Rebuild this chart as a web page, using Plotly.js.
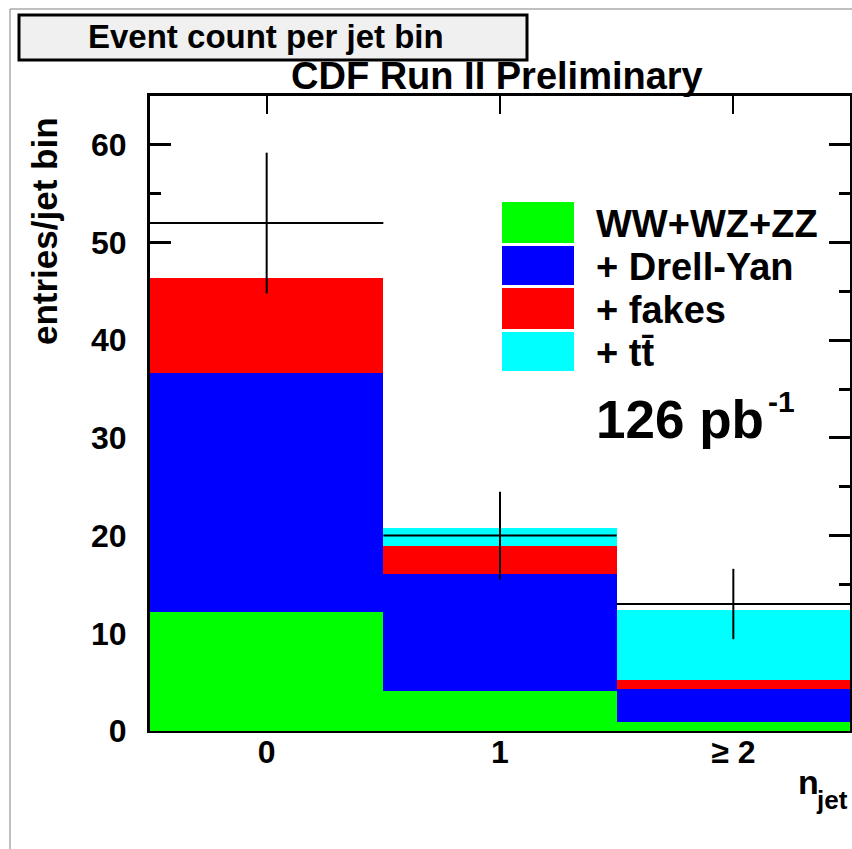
<!DOCTYPE html>
<html>
<head>
<meta charset="utf-8">
<script src="https://cdn.plot.ly/plotly-3.0.1.min.js"></script>
<style>
html,body{margin:0;padding:0;background:#fff;overflow:hidden;}
#chart{width:852px;height:849px;}
</style>
</head>
<body>
<div id="chart"></div>
<script>
// ---- data ----
const binPositions = [0, 1, 2];
const binLabels = ['0', '1', '\u2265 2'];
const diboson  = [12.2, 4.05, 0.95];   // WW+WZ+ZZ
const drellYan = [24.4, 12.05, 3.3];   // + Drell-Yan
const fakes    = [9.8, 2.85, 1.0];     // + fakes
const ttbar    = [0.0, 1.85, 7.15];    // + ttbar
const dataCounts = [52, 20, 13];
const dataErrors = [7.2, 4.5, 3.6];
const seriesNames = ['WW+WZ+ZZ', '+ Drell-Yan', '+ fakes', '+ tt\u0304'];
const seriesColors = ['#00ff00', '#0000ff', '#ff0000', '#00ffff'];

// ---- geometry ----
const W = 852, H = 849, L = 150, R = 2, T = 96, B = 118;
const pw = W - L - R, ph = H - T - B;
const X = p => (p - L) / pw;
const Y = p => (H - B - p) / ph;
const FONT = 'Liberation Sans, Arial, Helvetica, sans-serif';

const stacks = [diboson, drellYan, fakes, ttbar];
const traces = stacks.map((vals, i) => ({
  type: 'bar', x: binPositions, y: vals, width: 1,
  marker: {color: seriesColors[i], line: {width: 0}},
  name: seriesNames[i], showlegend: false, hoverinfo: 'skip'
}));
traces.push({
  type: 'scatter', mode: 'markers', x: binPositions, y: dataCounts,
  marker: {size: 2, color: 'rgba(0,0,0,0)'},
  error_x: {type: 'constant', value: 0.5, width: 0, thickness: 2, color: '#000'},
  error_y: {type: 'data', array: dataErrors, width: 0, thickness: 2, color: '#000'},
  showlegend: false, hoverinfo: 'skip'
});
// invisible trace to activate top axis
traces.push({type: 'scatter', x: binPositions, y: dataCounts, xaxis: 'x2', mode: 'none', showlegend: false, hoverinfo: 'skip'});

const shapes = [];
const annotations = [];
// canvas frame
shapes.push({type: 'line', xref: 'paper', yref: 'paper', x0: X(10), x1: X(860), y0: Y(9), y1: Y(9), line: {color: '#808080', width: 1}});
shapes.push({type: 'line', xref: 'paper', yref: 'paper', x0: X(10), x1: X(10), y0: Y(9), y1: Y(860), line: {color: '#808080', width: 1}});
// title box
shapes.push({type: 'rect', xref: 'paper', yref: 'paper', x0: X(19), x1: X(527), y0: Y(60), y1: Y(15), fillcolor: '#f0f0f0', line: {color: '#000', width: 3}});
annotations.push({xref: 'paper', yref: 'paper', x: X(266), y: Y(37), text: 'Event count per jet bin', showarrow: false, xanchor: 'center', yanchor: 'middle', font: {family: FONT, size: 33, weight: 'bold', color: '#000'}});
annotations.push({xref: 'paper', yref: 'paper', x: X(497), y: Y(76), text: 'CDF Run II Preliminary', showarrow: false, xanchor: 'center', yanchor: 'middle', font: {family: FONT, size: 38, weight: 'bold', color: '#000'}});
// y title
annotations.push({xref: 'paper', yref: 'paper', x: X(45), y: Y(231), text: 'entries/jet bin', textangle: -90, showarrow: false, xanchor: 'center', yanchor: 'middle', font: {family: FONT, size: 35, weight: 'bold', color: '#000'}});
// x title n_jet
annotations.push({xref: 'paper', yref: 'paper', x: X(796), y: Y(782), text: 'n', showarrow: false, xanchor: 'left', yanchor: 'middle', font: {family: FONT, size: 34, weight: 'bold', color: '#000'}});
annotations.push({xref: 'paper', yref: 'paper', x: X(814), y: Y(800), text: 'jet', showarrow: false, xanchor: 'left', yanchor: 'middle', font: {family: FONT, size: 26, weight: 'bold', color: '#000'}});
// legend
const boxRows = [[202, 243], [246, 285], [288, 329], [332, 371]];
boxRows.forEach((r, i) => {
  shapes.push({type: 'rect', xref: 'paper', yref: 'paper', x0: X(502), x1: X(574), y0: Y(r[1]), y1: Y(r[0]), fillcolor: seriesColors[i], line: {width: 0}});
  annotations.push({xref: 'paper', yref: 'paper', x: X(594), y: Y((r[0] + r[1]) / 2 + 1), text: seriesNames[i], showarrow: false, xanchor: 'left', yanchor: 'middle', font: {family: FONT, size: 38, weight: 'bold', color: '#000'}});
});
// luminosity
annotations.push({xref: 'paper', yref: 'paper', x: X(594), y: Y(420), text: '126 pb', showarrow: false, xanchor: 'left', yanchor: 'middle', font: {family: FONT, size: 53, weight: 'bold', color: '#000'}});
annotations.push({xref: 'paper', yref: 'paper', x: X(766), y: Y(401), text: '-1', showarrow: false, xanchor: 'left', yanchor: 'middle', font: {family: FONT, size: 30, weight: 'bold', color: '#000'}});

const layout = {
  width: W, height: H,
  margin: {l: L, r: R, t: T, b: B, pad: 0},
  paper_bgcolor: '#fff', plot_bgcolor: '#fff',
  barmode: 'stack', bargap: 0,
  showlegend: false,
  xaxis: {
    range: [-0.5, 2.5], tickvals: binPositions, ticktext: binLabels,
    ticks: '', showgrid: false, zeroline: false,
    showline: true, linecolor: '#000', linewidth: 2,
    tickfont: {family: FONT, size: 32, weight: 'bold', color: '#000'},
    ticklabelstandoff: -8, layer: 'below traces', fixedrange: true
  },
  xaxis2: {
    overlaying: 'x', side: 'top', range: [-0.5, 2.5], tickvals: binPositions,
    showticklabels: false, ticks: 'inside', ticklen: 18, tickwidth: 2, tickcolor: '#000',
    showline: true, linecolor: '#000', linewidth: 3, showgrid: false, zeroline: false,
    layer: 'below traces', fixedrange: true
  },
  yaxis: {
    range: [0, 65], tickvals: [0, 10, 20, 30, 40, 50, 60],
    ticks: 'inside', ticklen: 21, tickwidth: 3, tickcolor: '#000',
    minor: {tickvals: [5, 15, 25, 35, 45, 55, 65], ticks: 'inside', ticklen: 11, tickwidth: 3, tickcolor: '#000', showgrid: false},
    mirror: 'ticks', showline: true, linecolor: '#000', linewidth: 3,
    showgrid: false, zeroline: false,
    tickfont: {family: FONT, size: 32, weight: 'bold', color: '#000'},
    ticklabelstandoff: 14, layer: 'below traces', fixedrange: true
  },
  shapes: shapes,
  annotations: annotations
};

Plotly.newPlot('chart', traces, layout, {staticPlot: true, displayModeBar: false});
</script>
</body>
</html>
